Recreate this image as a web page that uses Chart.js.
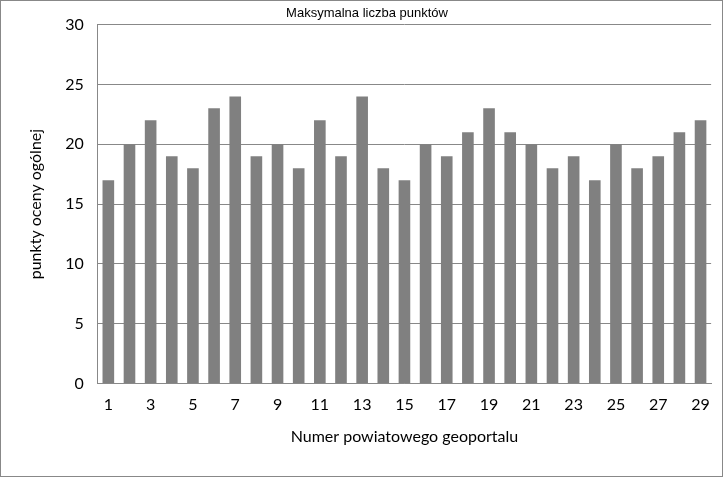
<!DOCTYPE html>
<html><head><meta charset="utf-8">
<script src="https://cdn.jsdelivr.net/npm/chart.js@4"></script>
<style>
html,body{margin:0;padding:0;background:#fff;}
#wrap{position:absolute;left:0;top:0;width:721px;height:475px;border:1px solid #888;}
</style></head>
<body><div id="wrap"><canvas id="c"></canvas></div>
<script>
const categories = Array.from({length:29},(_, i)=>String(i+1));
const values = [17,20,22,19,18,23,24,19,20,18,22,19,24,18,17,20,19,21,23,21,20,18,19,17,20,18,19,21,22];
const yTicks = [0,5,10,15,20,25,30];
const titleText = 'Maksymalna liczba punktów';
const xTitle = 'Numer powiatowego geoportalu';
const yTitle = 'punkty oceny ogólnej';

new Chart(document.getElementById('c'), {
  type:'bar',
  data:{labels:categories, datasets:[{data:values, backgroundColor:'#808080', categoryPercentage:1, barPercentage:0.55}]},
  options:{
    responsive:true, maintainAspectRatio:false, animation:false,
    layout:{padding:{left:21,right:10,top:0,bottom:26}},
    plugins:{legend:{display:false}, tooltip:{enabled:false},
      title:{display:true,text:titleText,color:'#000',font:{family:'Liberation Sans Narrow, Liberation Sans',size:13,weight:'normal'},padding:{top:5,bottom:3},
        align:'center'}},
    scales:{
      x:{grid:{display:false,drawTicks:false}, border:{color:'#888'},
        ticks:{autoSkip:false,maxRotation:0,color:'#000',padding:12,font:{family:'Lato',size:16},
          callback:(v,i)=> i%2===0 ? categories[i] : ''},
        title:{display:true,text:xTitle,color:'#000',font:{family:'Lato',size:16},padding:{top:0}}},
      y:{min:0,max:30, afterBuildTicks:a=>{a.ticks=yTicks.map(v=>({value:v}));},
        grid:{color:'#888',drawTicks:false}, border:{display:true,color:'#888'},
        ticks:{color:'#000',padding:14,font:{family:'Lato',size:16}},
        title:{display:true,text:yTitle,color:'#000',font:{family:'Lato',size:16},padding:{bottom:6}}}
    }
  }
});
</script></body></html>
